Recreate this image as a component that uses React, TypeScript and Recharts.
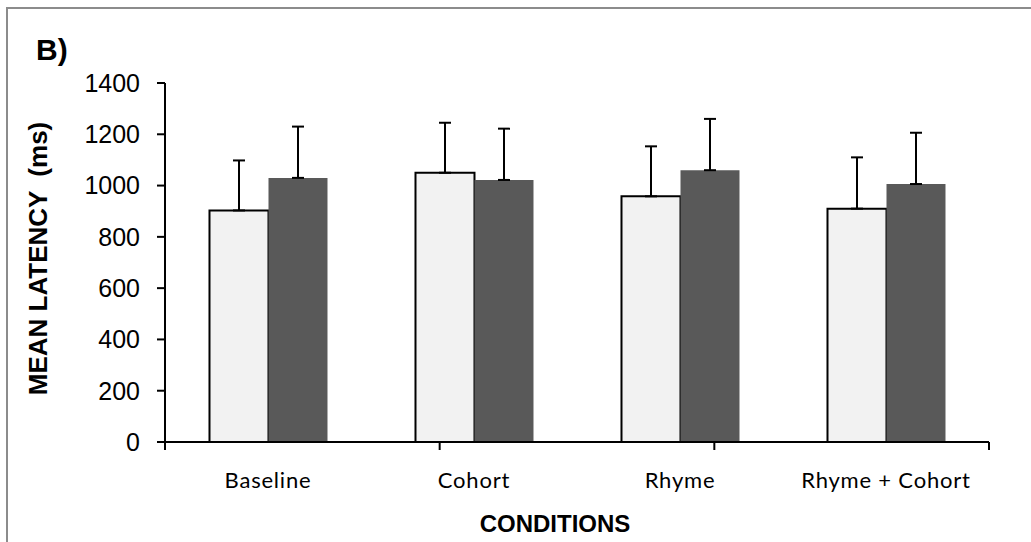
import React from 'react';
import { BarChart, Bar, XAxis, YAxis, ErrorBar, Label } from 'recharts';

const categories = ['Baseline', 'Cohort', 'Rhyme', 'Rhyme + Cohort'];
const lightValues = [903, 1050, 958, 910];
const lightErrors = [195, 195, 195, 200];
const darkValues = [1030, 1022, 1060, 1006];
const darkErrors = [200, 200, 200, 200];
const yTicks = [0, 200, 400, 600, 800, 1000, 1200, 1400];
const boundaryTicks = [0, 1, 2, 3, 4];

const data = categories.map((c, i) => ({
  name: c,
  light: lightValues[i],
  lightErr: [0, lightErrors[i]],
  dark: darkValues[i],
  darkErr: [0, darkErrors[i]],
}));

const ARIAL = '"Liberation Sans", Arial, sans-serif';

const EmptyTick = () => <g />;

const YTitle = (props: any) => {
  const vb = props.viewBox || { x: 0, y: 0, width: 0, height: 0 };
  const cx = vb.x - 47;
  const cy = vb.y + vb.height / 2 - 4;
  return (
    <text
      x={cx}
      y={cy}
      transform={`rotate(-90, ${cx}, ${cy})`}
      textAnchor="middle"
      dominantBaseline="central"
      fontFamily={ARIAL}
      fontWeight="bold"
      fontSize={26}
      fill="#000"
      style={{ whiteSpace: 'pre' }}
    >
      {'MEAN LATENCY  (ms)'}
    </text>
  );
};

const XTitle = (props: any) => {
  const vb = props.viewBox || { x: 0, y: 0, width: 0, height: 0 };
  const cx = vb.x + vb.width / 2 - 22;
  return (
    <text
      x={cx}
      y={532}
      textAnchor="middle"
      fontFamily={ARIAL}
      fontWeight="bold"
      fontSize={24}
      fill="#000"
    >
      CONDITIONS
    </text>
  );
};

export default function App() {
  return (
    <div
      style={{
        position: 'fixed',
        left: 0,
        top: 0,
        width: 1031,
        height: 542,
        overflow: 'hidden',
        background: '#fff',
      }}
    >
      <div
        style={{
          position: 'absolute',
          left: 6,
          top: 7,
          width: 1200,
          height: 700,
          borderLeft: '2px solid #8c8c8c',
          borderTop: '2px solid #8c8c8c',
        }}
      />
      <div
        style={{
          position: 'absolute',
          left: 36,
          top: 33,
          fontFamily: ARIAL,
          fontWeight: 'bold',
          fontSize: 30,
          lineHeight: '34px',
          color: '#000',
        }}
      >
        B)
      </div>
      <div style={{ position: 'absolute', left: 0, top: 0 }}>
        <BarChart
          width={1031}
          height={542}
          data={data}
          margin={{ top: 83, right: 42, left: 85, bottom: 40 }}
          barCategoryGap="21.6%"
          barGap={0}
        >
          <XAxis
            xAxisId="b"
            dataKey="name"
            type="category"
            height={59}
            axisLine={false}
            tickLine={false}
            tickSize={0}
            tickMargin={29}
            interval={0}
            tick={{ fill: '#000', fontSize: 22, letterSpacing: 0.8, fontFamily: 'Lato, "Open Sans", sans-serif' }}
          >
            <Label content={XTitle} />
          </XAxis>
          <XAxis
            xAxisId="a"
            type="number"
            domain={[0, 4]}
            ticks={boundaryTicks}
            interval={0}
            allowDataOverflow
            tick={EmptyTick}
            tickSize={8}
            height={1}
            axisLine={{ stroke: '#000', strokeWidth: 2 }}
            tickLine={{ stroke: '#000', strokeWidth: 2 }}
          />
          <YAxis
            domain={[0, 1400]}
            ticks={yTicks}
            width={80}
            tickSize={8}
            tickMargin={17}
            axisLine={{ stroke: '#000', strokeWidth: 2 }}
            tickLine={{ stroke: '#000', strokeWidth: 2 }}
            tick={{ fill: '#000', fontSize: 25, fontFamily: ARIAL }}
            interval={0}
          >
            <Label content={YTitle} />
          </YAxis>
          <Bar
            xAxisId="b"
            dataKey="light"
            fill="#f2f2f2"
            stroke="#000"
            strokeWidth={2}
            isAnimationActive={false}
          >
            <ErrorBar dataKey="lightErr" direction="y" width={6} stroke="#000" strokeWidth={2} />
          </Bar>
          <Bar xAxisId="b" dataKey="dark" fill="#595959" isAnimationActive={false}>
            <ErrorBar dataKey="darkErr" direction="y" width={6} stroke="#000" strokeWidth={2} />
          </Bar>
        </BarChart>
      </div>
    </div>
  );
}
